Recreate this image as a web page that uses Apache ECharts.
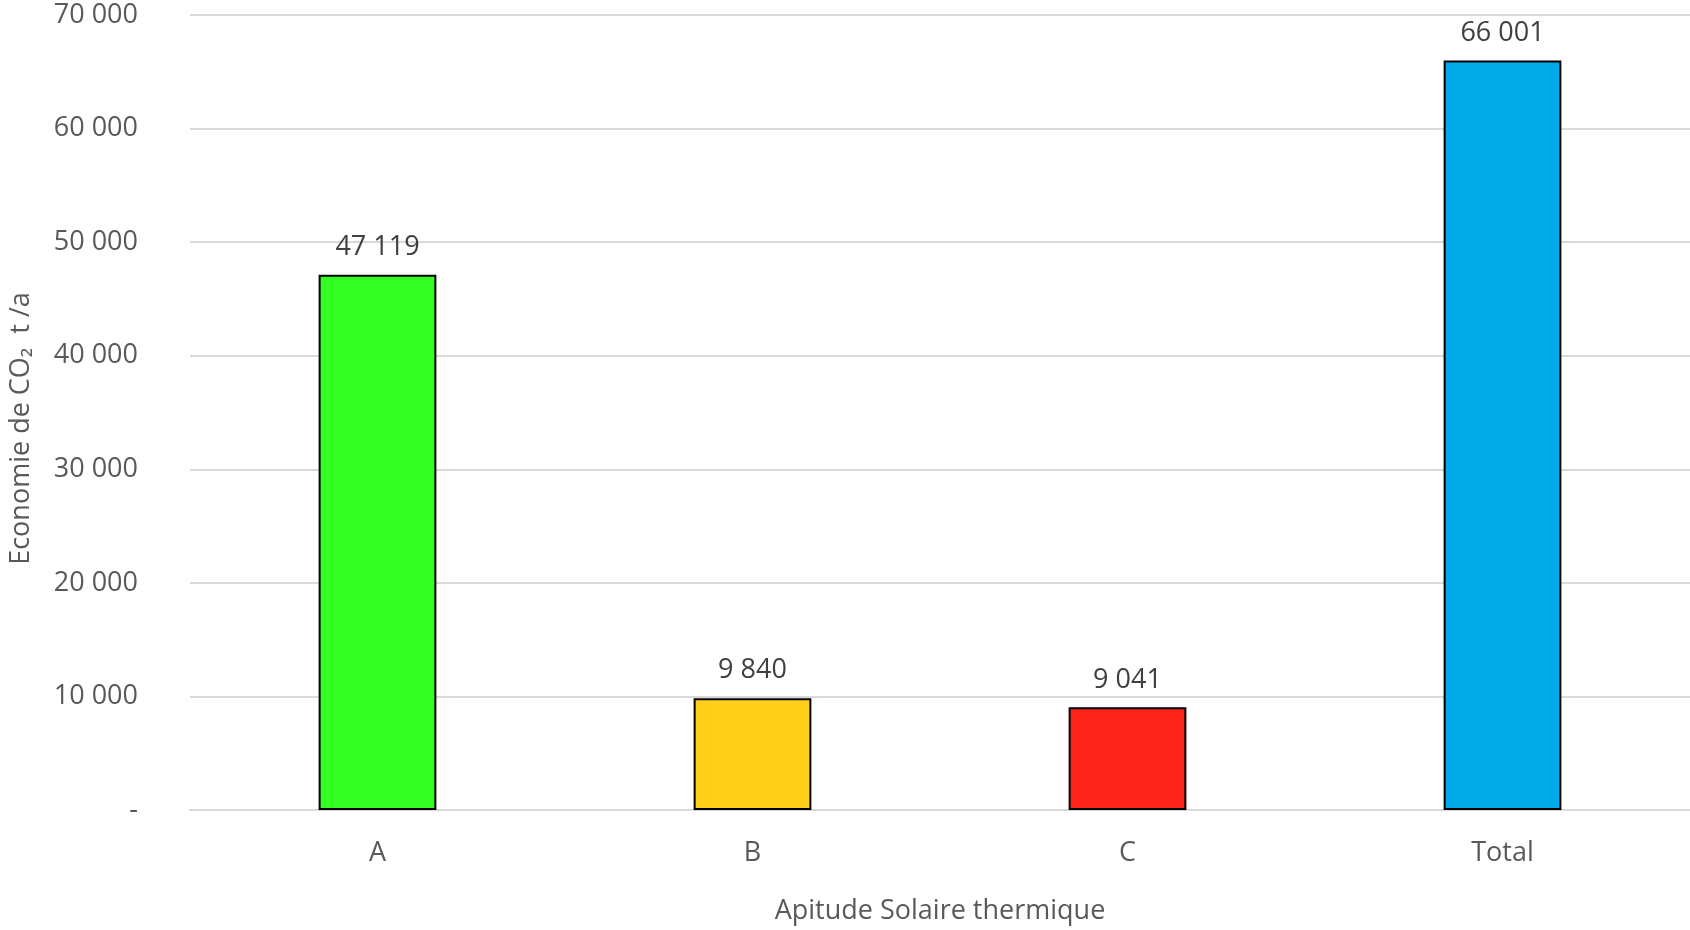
<!DOCTYPE html>
<html>
<head>
<meta charset="utf-8">
<script src="https://cdn.jsdelivr.net/npm/echarts@6/dist/echarts.min.js"></script>
<style>html,body{margin:0;padding:0;background:#fff}#c{width:1690px;height:930px}</style>
</head>
<body>
<div id="c"></div>
<script>
const categories = ['A', 'B', 'C', 'Total'];
const values = [47119, 9840, 9041, 66001];
const barColors = ['#33FF23', '#FFD017', '#FF2419', '#00ABE9'];
const yTicks = [0, 10000, 20000, 30000, 40000, 50000, 60000, 70000];

function fmt(v) {
  if (v === 0) return '-';
  return String(Math.round(v)).replace(/\B(?=(\d{3})+(?!\d))/g, ' ');
}

const chart = echarts.init(document.getElementById('c'));
chart.setOption({
  animation: false,
  textStyle: { fontFamily: 'Open Sans' },
  grid: { left: 186, right: 0, top: 15, bottom: 114, containLabel: false },
  xAxis: {
    type: 'category',
    data: categories,
    name: 'Apitude Solaire thermique',
    nameLocation: 'middle',
    nameGap: 88,
    nameTextStyle: { fontSize: 27, color: '#595959', fontFamily: 'Open Sans' },
    axisLine: { lineStyle: { color: '#D9D9D9', width: 2 } },
    axisTick: { show: false },
    axisLabel: { fontSize: 27, color: '#595959', margin: 30, fontFamily: 'Open Sans' }
  },
  yAxis: {
    type: 'value',
    min: yTicks[0],
    max: yTicks[yTicks.length - 1],
    interval: 10000,
    name: 'Economie de CO₂  t /a',
    nameLocation: 'middle',
    nameGap: 155,
    nameTextStyle: { fontSize: 27, color: '#595959', fontFamily: 'Open Sans', padding: [0, 32, 0, 0] },
    axisLine: { show: false },
    axisTick: { show: false },
    splitLine: { lineStyle: { color: '#D9D9D9', width: 2 } },
    axisLabel: { fontSize: 27, color: '#595959', margin: 52, formatter: fmt, fontFamily: 'Open Sans' }
  },
  series: [{
    type: 'bar',
    data: values.map((v, i) => ({ value: v, itemStyle: { color: barColors[i] } })),
    barWidth: '31.4%',
    itemStyle: { borderColor: '#000', borderWidth: 2 },
    label: {
      show: true,
      position: 'top',
      distance: 14,
      fontSize: 27,
      color: '#404040',
      fontFamily: 'Open Sans',
      formatter: p => fmt(p.value)
    }
  }]
});
</script>
</body>
</html>
